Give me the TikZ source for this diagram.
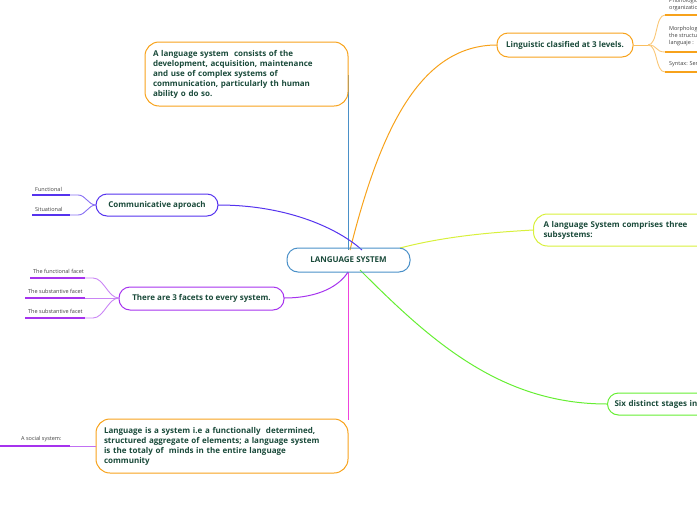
\documentclass[tikz,border=0pt]{standalone}
\usepackage{fontspec}
\setmainfont{Open Sans}
\begin{document}
\begin{tikzpicture}[x=1pt,y=-1pt,
  box/.style={draw,line width=1pt,rounded corners=11pt,text=txt,font=\bfseries\fontsize{8}{10}\selectfont,align=left,inner sep=0pt},
  leaf/.style={font=\fontsize{5.5}{7}\selectfont,text=black!75,anchor=south west,inner sep=1pt,align=left},
  ln/.style={line width=0.9pt}]
\definecolor{txt}{HTML}{1A4A3A}
\definecolor{cblue}{HTML}{4A90C8}
\definecolor{corange}{HTML}{F7A21B}
\definecolor{cyel}{HTML}{D8F03C}
\definecolor{cgreen}{HTML}{66EE33}
\definecolor{cviol}{HTML}{5533EE}
\definecolor{cpurp}{HTML}{A633EE}
\definecolor{cmag}{HTML}{EE44DD}
\useasboundingbox (0,0) rectangle (697,520);
\clip (0,0) rectangle (697,520);
% connectors
\draw[cblue,line width=1pt] (348,75) -- (348,250);
\draw[corange,line width=1pt] (350,250) .. controls (380,130) and (420,45) .. (497,45);
\draw[cyel,line width=1pt] (400,248) .. controls (450,235) and (500,232) .. (533,230);
\draw[cgreen,line width=1pt] (360,270) .. controls (430,340) and (500,404) .. (607,404);
\draw[cviol,line width=1pt] (218,205) .. controls (290,205) and (340,230) .. (362,250);
\draw[cpurp,line width=1pt] (284,298) .. controls (320,298) and (340,285) .. (348,272);
\draw[cmag,line width=1pt] (348,272) -- (348,420);
% nodes
\node[box,draw=cblue,minimum width=123pt,minimum height=24pt,align=center] (c) at (348.5,260) {LANGUAGE SYSTEM};
\node[box,draw=corange,minimum width=203pt,minimum height=64pt,text width=187pt,rounded corners=14pt] (t) at (246.5,74) {A language system\ \ consists of the\\ development, acquisition, maintenance\\ and use of complex systems of\\ communication, particularly th human\\ ability o do so.};
\node[box,draw=corange,minimum width=136pt,minimum height=24pt,align=center] (l) at (565,45) {Linguistic clasified at 3 levels.};
\node[box,draw=cyel,minimum width=200pt,minimum height=32pt,text width=180pt,rounded corners=14pt,anchor=west] (s) at (533,230) {A language System comprises three\\ subsystems:};
\node[box,draw=cgreen,minimum width=160pt,minimum height=22pt,text width=146pt,anchor=west] (x) at (607,404) {Six distinct stages in};
\node[box,draw=cviol,minimum width=122pt,minimum height=22pt,align=center] (cm) at (157,205) {Communicative aproach};
\node[box,draw=cpurp,minimum width=165pt,minimum height=23pt,align=center] (f) at (201.5,298.5) {There are 3 facets to every system.};
\node[box,draw=corange,minimum width=252pt,minimum height=54pt,text width=236pt,rounded corners=14pt] (ls) at (222,446) {Language is a system i.e a functionally\ \ determined,\\ structured aggregate of elements; a language system\\ is the totaly of\ \ minds in the entire language\\ community};
% left leaves
\draw[cviol!70,ln] (96,205) .. controls (88,205) and (86,195) .. (78,195) -- (32,195);
\draw[cviol!70,ln] (96,205) .. controls (88,205) and (86,215) .. (78,215) -- (32,215);
\draw[cviol,line width=1.2pt] (32,195) -- (70,195) (32,215) -- (70,215);
\node[leaf] at (34,193) {Functional};
\node[leaf] at (34,213) {Situational};
\draw[cpurp!60,ln] (119,298) .. controls (108,298) and (104,278) .. (93,278) -- (30,278);
\draw[cpurp!60,ln] (119,298) -- (25,298);
\draw[cpurp!60,ln] (119,298) .. controls (108,298) and (104,318) .. (93,318) -- (25,318);
\draw[cpurp,line width=1.2pt] (30,278) -- (85,278) (25,298) -- (85,298) (25,318) -- (85,318);
\node[leaf] at (32,275) {The functional facet};
\node[leaf] at (27,295) {The substantive facet};
\node[leaf] at (27,315) {The substantive facet};
\draw[cpurp!70,ln] (96,446) -- (70,446);
\draw[cpurp,line width=1.2pt] (70,446) -- (0,446);
\node[leaf] at (20,443) {A social system:};
% top-right leaves
\draw[corange!70,ln] (633,45) -- (648,45);
\draw[corange!60,ln] (648,45) .. controls (658,45) and (655,15) .. (665,15) -- (697,15);
\draw[corange!60,ln] (648,45) .. controls (658,45) and (655,52) .. (665,52) -- (697,52);
\draw[corange!60,ln] (648,45) .. controls (658,45) and (655,72) .. (665,72) -- (697,72);
\draw[corange,line width=1.2pt] (665,15) -- (697,15) (665,52) -- (697,52) (665,72) -- (697,72);
\node[leaf] at (668,12) {Phonological\\ organization};
\node[leaf] at (668,47) {Morphology:\\ the structure\\ languaje :};
\node[leaf] at (668,68) {Syntax: Sentences};
\end{tikzpicture}
\end{document}
